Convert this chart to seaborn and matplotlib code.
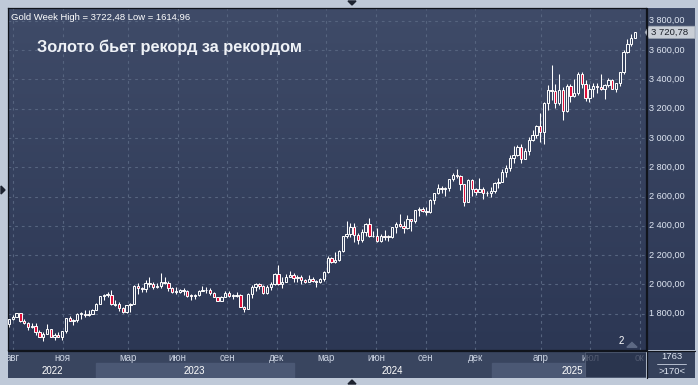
import numpy as np
import pandas as pd
import matplotlib
matplotlib.use("Agg")
import matplotlib.pyplot as plt
import seaborn as sns
from matplotlib.colors import LinearSegmentedColormap
from matplotlib.patches import Rectangle, Polygon

sns.set_theme(style='dark')
plt.rcParams['font.family'] = ['Liberation Sans', 'DejaVu Sans']

# Weekly gold candles, first week starting 2022-07-25
first_week = '2022-07-25'
opens = [1727, 1765, 1775, 1802, 1747, 1737, 1712, 1716, 1675, 1643, 1660, 1695, 1644, 1656, 1644, 1681,
         1771, 1751, 1755, 1797, 1797, 1793, 1798,
         1824, 1866, 1920, 1926, 1928, 1862, 1865, 1842, 1811, 1856, 1868, 1989, 1978, 1969, 2007, 2004,
         1983, 1990, 2016, 2011, 1978, 1946, 1948, 1961, 1958, 1921, 1919, 1925, 1955, 1962, 1959, 1943,
         1914, 1889, 1915, 1940, 1919, 1924, 1925, 1848, 1833, 1933, 1981, 2006, 1992, 1940, 1981, 2001,
         2072, 2004, 2019, 2053,
         2063, 2045, 2049, 2029, 2018, 2039, 2024, 2013, 2035, 2083, 2179, 2155, 2165, 2229, 2329, 2344,
         2392, 2337, 2301, 2360, 2415, 2333, 2327, 2293, 2333, 2322, 2326, 2391, 2411, 2400, 2387, 2443,
         2431, 2507, 2512, 2503, 2497, 2577, 2621, 2657, 2653, 2656, 2721, 2747, 2737, 2684, 2563, 2715,
         2650, 2633, 2648, 2622,
         2621, 2640, 2690, 2702, 2770, 2798, 2861, 2882, 2935, 2857, 2910, 2984, 3022, 3084, 3037, 3237,
         3327, 3319, 3241, 3325, 3187, 3357, 3289, 3310, 3433, 3368, 3274, 3337, 3355, 3350, 3337, 3363,
         3398, 3336, 3372, 3448, 3587, 3643, 3685]
highs = [1767, 1788, 1807, 1804, 1765, 1740, 1735, 1735, 1688, 1676, 1730, 1697, 1668, 1675, 1683, 1772,
         1786, 1761, 1805, 1810, 1824, 1823, 1833,
         1870, 1922, 1937, 1949, 1960, 1890, 1880, 1846, 1858, 1870, 1994, 2010, 1985, 2032, 2048, 2015,
         2009, 2081, 2048, 2022, 1985, 1983, 1970, 1972, 1960, 1933, 1935, 1963, 1987, 1982, 1972, 1945,
         1917, 1923, 1953, 1953, 1933, 1947, 1935, 1850, 1938, 1997, 2009, 2010, 1993, 1993, 2017, 2075,
         2135, 2047, 2070, 2088,
         2079, 2062, 2062, 2036, 2065, 2048, 2031, 2041, 2088, 2195, 2185, 2222, 2236, 2330, 2431, 2418,
         2418, 2354, 2378, 2422, 2450, 2364, 2388, 2342, 2368, 2339, 2392, 2424, 2483, 2432, 2477, 2444,
         2509, 2531, 2528, 2529, 2586, 2625, 2685, 2673, 2664, 2722, 2759, 2790, 2750, 2685, 2721, 2721,
         2658, 2726, 2664, 2638,
         2665, 2697, 2726, 2786, 2817, 2886, 2942, 2955, 2956, 2930, 3005, 3057, 3086, 3167, 3245, 3358,
         3500, 3368, 3435, 3345, 3366, 3366, 3403, 3447, 3452, 3398, 3366, 3375, 3375, 3439, 3365, 3409,
         3405, 3378, 3453, 3599, 3675, 3707, 3722]
lows = [1711, 1754, 1774, 1745, 1727, 1688, 1700, 1654, 1640, 1615, 1660, 1640, 1618, 1638, 1617, 1671,
        1747, 1721, 1744, 1765, 1774, 1785, 1795,
        1824, 1865, 1896, 1911, 1862, 1852, 1819, 1805, 1804, 1810, 1865, 1935, 1950, 1950, 1981, 1969,
        1974, 1978, 2002, 1952, 1938, 1932, 1938, 1925, 1913, 1893, 1902, 1922, 1952, 1942, 1929, 1911,
        1885, 1884, 1914, 1915, 1901, 1913, 1846, 1810, 1831, 1908, 1953, 1970, 1932, 1931, 1965, 1999,
        1995, 1973, 2016, 2050,
        2017, 2013, 2002, 2009, 2016, 2014, 1984, 2009, 2024, 2078, 2146, 2146, 2163, 2221, 2320, 2324,
        2291, 2277, 2292, 2333, 2325, 2322, 2287, 2287, 2303, 2293, 2319, 2353, 2392, 2353, 2381, 2364,
        2416, 2470, 2491, 2471, 2486, 2546, 2618, 2625, 2603, 2640, 2708, 2725, 2643, 2537, 2560, 2605,
        2613, 2630, 2583, 2603,
        2596, 2625, 2656, 2698, 2730, 2772, 2832, 2878, 2832, 2853, 2880, 2982, 3000, 2970, 2957, 3194,
        3260, 3202, 3228, 3121, 3180, 3245, 3280, 3294, 3340, 3255, 3247, 3282, 3309, 3325, 3268, 3345,
        3331, 3311, 3353, 3436, 3578, 3627, 3680]
closes = [1765, 1775, 1802, 1747, 1737, 1712, 1716, 1675, 1643, 1660, 1695, 1644, 1656, 1644, 1681, 1771,
          1751, 1755, 1797, 1797, 1793, 1798, 1824,
          1866, 1920, 1926, 1928, 1865, 1865, 1842, 1811, 1856, 1868, 1989, 1978, 1969, 2007, 2004, 1983,
          1990, 2016, 2011, 1978, 1946, 1948, 1961, 1958, 1921, 1919, 1925, 1955, 1962, 1959, 1943, 1914,
          1889, 1915, 1940, 1919, 1924, 1925, 1848, 1833, 1933, 1981, 2006, 1992, 1940, 1981, 2001, 2072,
          2004, 2019, 2053, 2063,
          2045, 2049, 2029, 2018, 2039, 2024, 2013, 2035, 2083, 2179, 2155, 2165, 2229, 2329, 2344, 2392,
          2337, 2301, 2360, 2415, 2333, 2327, 2293, 2333, 2322, 2326, 2391, 2411, 2400, 2387, 2443, 2431,
          2507, 2512, 2503, 2497, 2577, 2621, 2657, 2653, 2656, 2721, 2747, 2737, 2684, 2563, 2715, 2650,
          2633, 2648, 2622, 2621,
          2640, 2690, 2702, 2770, 2798, 2861, 2882, 2935, 2857, 2910, 2984, 3022, 3084, 3037, 3237, 3327,
          3319, 3241, 3325, 3187, 3357, 3289, 3310, 3433, 3368, 3274, 3337, 3355, 3350, 3337, 3363, 3398,
          3336, 3372, 3448, 3587, 3643, 3685, 3721]

price_ticks = [1800, 2000, 2200, 2400, 2600, 2800, 3000, 3200, 3400, 3600, 3800]
month_labels = ['авг', 'ноя', 'мар', 'июн', 'сен', 'дек', 'мар', 'июн', 'сен', 'дек', 'апр', 'июл', 'ок']
month_dates = ['2022-08-01', '2022-11-01', '2023-03-01', '2023-06-01', '2023-09-01', '2023-12-01',
               '2024-03-01', '2024-06-01', '2024-09-01', '2024-12-01', '2025-04-01', '2025-07-01',
               '2025-10-01']
year_labels = ['2022', '2023', '2024', '2025']
year_starts = ['2022-07-01', '2023-01-01', '2024-01-01', '2025-01-01', '2025-06-22']
last_price = 3720.78

df = pd.DataFrame({'open': opens, 'high': highs, 'low': lows, 'close': closes})
df['week'] = pd.date_range(first_week, periods=len(df), freq='W-MON')
df['i'] = np.arange(len(df))
df['up'] = df['close'] >= df['open']

t0 = pd.Timestamp(first_week)


def to_idx(d):
    return (pd.Timestamp(d) - t0).days / 7.0


W, H = 698, 385
fig = plt.figure(figsize=(W / 100, H / 100), dpi=100, facecolor='#bfc9d8')


def px_axes(x0, y0, x1, y1):
    return fig.add_axes([x0 / W, 1 - y1 / H, (x1 - x0) / W, (y1 - y0) / H])


def gradient(ax, top, bottom):
    cmap = LinearSegmentedColormap.from_list('g', [top, bottom])
    ax.imshow(np.linspace(0, 1, 256).reshape(-1, 1), cmap=cmap, aspect='auto',
              extent=[0, 1, 0, 1], transform=ax.transAxes, zorder=0)


xlim = (-0.26, 167.9)
ylim = (1552, 3887)

# main candle area
ax = px_axes(8, 8, 646, 350)
gradient(ax, '#3f4b68', '#2c3754')
ax.set_xlim(*xlim)
ax.set_ylim(*ylim)
for v in price_ticks:
    ax.axhline(v, color='#56647f', lw=0.8, ls=(0, (2.5, 3.5)), zorder=1)
for d in month_dates:
    ax.axvline(to_idx(d), color='#56647f', lw=0.8, ls=(0, (2.5, 3.5)), zorder=1)

ax.vlines(df['i'], df['low'], df['high'], color='white', lw=0.75, zorder=2)
body_lo = df[['open', 'close']].min(axis=1)
body_h = (df['close'] - df['open']).abs().clip(lower=6)
faces = np.where(df['up'], '#36425f', '#e0103a')
ax.bar(df['i'], body_h, bottom=body_lo, width=0.62, color=faces, edgecolor='white',
       linewidth=0.7, zorder=3)

ax.set_xticks([])
ax.set_yticks([])
for s in ax.spines.values():
    s.set_color('#10141c')
    s.set_linewidth(0.9)

ax.text(0.004, 0.985, 'Gold Week High = 3722,48 Low = 1614,96', transform=ax.transAxes,
        color='white', fontsize=6.8, va='top', ha='left')
ax.text(0.046, 0.885, 'Золото бьет рекорд за рекордом', transform=ax.transAxes,
        color='#eef1f6', fontsize=11.8, fontweight='bold', va='center', ha='left')
ax.text(0.965, 0.012, '2', transform=ax.transAxes, color='white', fontsize=7,
        va='bottom', ha='right')
ax.add_patch(Polygon([[0.97, 0.008], [0.986, 0.008], [0.978, 0.022]], closed=True,
                     transform=ax.transAxes, color='#5d6984', zorder=5))

# right price scale
ay = px_axes(647, 8, 695, 350)
gradient(ay, '#3f4b68', '#2c3754')
ay.set_xlim(0, 1)
ay.set_ylim(*ylim)
ay.set_xticks([])
ay.set_yticks([])
for s in ay.spines.values():
    s.set_visible(False)
for v in price_ticks:
    lab = f'{v:,.2f}'.replace(',', ' ').replace('.', ',')
    ay.text(0.04, v, lab, color='#dfe6f2', fontsize=6.6, va='center', ha='left')
tag = Polygon([[-0.04, last_price], [0.04, last_price + 42], [1.0, last_price + 42],
               [1.0, last_price - 42], [0.04, last_price - 42]], closed=True,
              facecolor='#c9ced6', edgecolor='#9aa2b0', lw=0.5, clip_on=False, zorder=4)
ay.add_patch(tag)
tag_lab = f'{last_price:,.2f}'.replace(',', ' ').replace('.', ',')
ay.text(0.09, last_price, tag_lab, color='#1b1f28', fontsize=6.8, va='center', ha='left', zorder=5)

# time axis
at = px_axes(8, 351, 646, 378)
at.set_facecolor('#39455f')
at.set_xlim(*xlim)
at.set_ylim(0, 1)
at.set_xticks([])
at.set_yticks([])
for s in at.spines.values():
    s.set_visible(False)
ys = [to_idx(d) for d in year_starts]
for k, lab in enumerate(year_labels):
    if k % 2 == 1:
        at.add_patch(Rectangle((ys[k], 0.0), ys[k + 1] - ys[k], 0.55, color='#4b5874', zorder=1))
    mid = (max(ys[k], xlim[0]) + ys[k + 1]) / 2
    if k == len(year_labels) - 1:
        at.text(ys[k + 1] - 0.6, 0.26, lab, color='white', fontsize=7, ha='right', va='center', zorder=2)
    else:
        at.text(mid, 0.26, lab, color='white', fontsize=7, ha='center', va='center', zorder=2)
for lab, d in zip(month_labels, month_dates):
    at.text(to_idx(d), 0.74, lab, color='#c9d1e0', fontsize=7, ha='center', va='center',
            zorder=2, clip_on=True)
at.add_patch(Rectangle((ys[-1], 0.03), xlim[1] - ys[-1], 0.94, facecolor='#263049', alpha=0.75,
                       edgecolor='#59647c', lw=0.8, zorder=3))

# corner box
ac = px_axes(647, 351, 695, 378)
ac.set_facecolor('#35415b')
ac.set_xlim(0, 1)
ac.set_ylim(0, 1)
ac.set_xticks([])
ac.set_yticks([])
for s in ac.spines.values():
    s.set_visible(False)
ac.text(0.52, 0.78, '1763', color='#dfe6f2', fontsize=6.8, ha='center', va='center')
ac.plot([0.2, 0.82], [0.53, 0.53], color='#c9d1e0', lw=0.6)
ac.text(0.52, 0.24, '>170<', color='#dfe6f2', fontsize=6.8, ha='center', va='center')

# divider lines
fig.add_artist(plt.Line2D([646.5 / W, 646.5 / W], [1 - 378 / H, 1 - 8 / H], color='#10141c', lw=0.9))
fig.add_artist(plt.Line2D([8 / W, 695 / W], [1 - 350.5 / H, 1 - 350.5 / H], color='#10141c', lw=0.9))

# small frame arrows
fig.add_artist(Polygon([[348 / W, 1 - 1 / H], [356 / W, 1 - 1 / H], [352 / W, 1 - 5 / H]],
                       closed=True, color='#1d2330'))
fig.add_artist(Polygon([[348 / W, 1 - 384 / H], [356 / W, 1 - 384 / H], [352 / W, 1 - 380 / H]],
                       closed=True, color='#1d2330'))
fig.add_artist(Polygon([[1 / W, 1 - 186 / H], [1 / W, 1 - 194 / H], [5 / W, 1 - 190 / H]],
                       closed=True, color='#1d2330'))

fig.savefig('out.png', dpi=100, facecolor=fig.get_facecolor())
